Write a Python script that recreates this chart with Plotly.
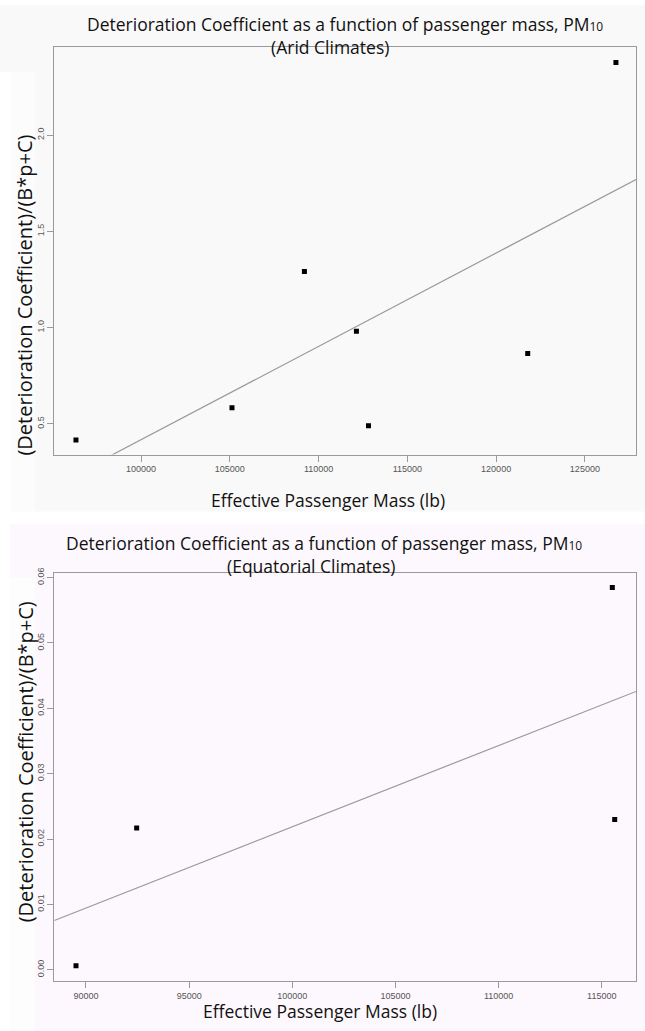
import numpy as np
import plotly.graph_objects as go

# ---------------- data ----------------
arid_mass = [96330, 105120, 109200, 112130, 112810, 121780, 126750]
arid_coef = [0.416, 0.584, 1.291, 0.981, 0.490, 0.866, 2.377]

equat_mass = [89516, 92456, 115509, 115625]
equat_coef = [0.0006, 0.0217, 0.0585, 0.0230]

title_main = "Deterioration Coefficient as a function of passenger mass, PM<span style='font-size:12px'>10</span>"
title_arid = "(Arid Climates)"
title_equat = "(Equatorial Climates)"
x_title = "Effective Passenger Mass (lb)"
y_title = "(Deterioration Coefficient)/(B*p+C)"

# axis ranges (layout)
arid_xrange = [95110, 127880]
arid_yrange = [0.3413, 2.4548]
equat_xrange = [88464, 116657]
equat_yrange = [-0.00168, 0.06072]

W, H = 645, 1031


def px(x):
    return x / W


def py(y):
    return 1 - y / H


# fits (like R abline(lm(...)))
a_s, a_i = np.polyfit(arid_mass, arid_coef, 1)
e_s, e_i = np.polyfit(equat_mass, equat_coef, 1)
a_fx = np.array(arid_xrange)
e_fx = np.array(equat_xrange)

fig = go.Figure()

marker = dict(symbol="square", size=5, color="black")
fitline = dict(color="#9a9a9a", width=1.2)

fig.add_trace(go.Scatter(x=arid_mass, y=arid_coef, mode="markers", marker=marker,
                         xaxis="x", yaxis="y", showlegend=False))
fig.add_trace(go.Scatter(x=a_fx, y=a_s * a_fx + a_i, mode="lines", line=fitline,
                         xaxis="x", yaxis="y", showlegend=False))
fig.add_trace(go.Scatter(x=equat_mass, y=equat_coef, mode="markers", marker=marker,
                         xaxis="x2", yaxis="y2", showlegend=False))
fig.add_trace(go.Scatter(x=e_fx, y=e_s * e_fx + e_i, mode="lines", line=fitline,
                         xaxis="x2", yaxis="y2", showlegend=False))

tickfont = dict(family="Liberation Sans, Arial, sans-serif", size=9, color="#555555")
axcommon = dict(showline=True, mirror=True, linecolor="#9a9a9a", linewidth=1,
                ticks="outside", ticklen=6, tickcolor="#9a9a9a", tickwidth=1,
                showgrid=False, zeroline=False, tickfont=tickfont)

x0, x1 = px(54.3), px(636)

fig.update_layout(
    width=W, height=H,
    margin=dict(l=0, r=0, t=0, b=0),
    paper_bgcolor="white",
    plot_bgcolor="rgba(0,0,0,0)",
    xaxis=dict(domain=[x0, x1], range=arid_xrange, dtick=5000, tick0=0,
               tickformat="d", anchor="y", **axcommon),
    yaxis=dict(domain=[py(451.7), py(42.7)], range=arid_yrange, dtick=0.5, tick0=0,
               tickformat=".1f", tickangle=-90, anchor="x", **axcommon),
    xaxis2=dict(domain=[x0, x1], range=equat_xrange, dtick=5000, tick0=0,
                tickformat="d", anchor="y2", **axcommon),
    yaxis2=dict(domain=[py(980.5), py(570.7)], range=equat_yrange, dtick=0.01, tick0=0,
                tickformat=".2f", tickangle=-90, anchor="x2", **axcommon),
    font=dict(family="Open Sans, sans-serif", color="#111111"),
)

# background panels
shapes = [
    dict(type="rect", xref="paper", yref="paper", x0=px(0), x1=px(645), y0=py(509), y1=py(0),
         fillcolor="#f9f9f9", line=dict(width=0), layer="below"),
    dict(type="rect", xref="paper", yref="paper", x0=px(0), x1=px(10), y0=py(509), y1=py(67),
         fillcolor="#ffffff", line=dict(width=0), layer="below"),
    dict(type="rect", xref="paper", yref="paper", x0=px(10), x1=px(35), y0=py(509), y1=py(67),
         fillcolor="#fbfcfb", line=dict(width=0), layer="below"),
    dict(type="rect", xref="paper", yref="paper", x0=px(10), x1=px(645), y0=py(1031), y1=py(522),
         fillcolor="#fdf8fd", line=dict(width=0), layer="below"),
    dict(type="rect", xref="paper", yref="paper", x0=px(10), x1=px(35), y0=py(1031), y1=py(575),
         fillcolor="#fcfdfc", line=dict(width=0), layer="below"),
]
fig.update_layout(shapes=shapes)

tfont = dict(family="Open Sans, sans-serif", size=17.5, color="#111111")
xfont = dict(family="Open Sans, sans-serif", size=17.5, color="#111111")
yfont = dict(family="Open Sans, sans-serif", size=20, color="#111111")
anns = [
    dict(text=title_main, x=px(345), y=py(19), font=tfont),
    dict(text=title_arid, x=px(330), y=py(42), font=tfont),
    dict(text=x_title, x=px(328), y=py(497), font=xfont),
    dict(text=y_title, x=px(25), y=py(292), font=yfont, textangle=-90),
    dict(text=title_main, x=px(324), y=py(541), font=tfont),
    dict(text=title_equat, x=px(311), y=py(564), font=tfont),
    dict(text=x_title, x=px(320), y=py(1011), font=xfont),
    dict(text=y_title, x=px(25), y=py(761), font=yfont, textangle=-90),
]
for a in anns:
    a.update(xref="paper", yref="paper", showarrow=False, xanchor="center", yanchor="middle")
fig.update_layout(annotations=anns)

fig.write_html("out.html", config={"displayModeBar": False},
               post_script="document.body.style.margin='0';")
